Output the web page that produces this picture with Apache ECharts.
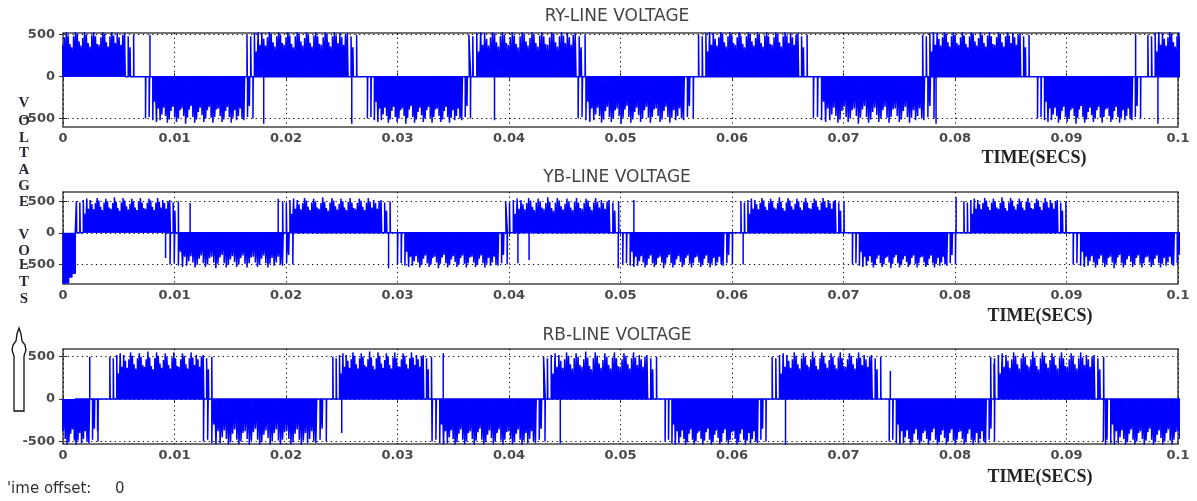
<!DOCTYPE html>
<html lang="en">
  <head>
    <meta charset="UTF-8" />
    <title>line voltages</title>
    <style>
      body, html {
        margin: 0;
        width: 100%;
        height: 100%;
        background: #fff;
      }
    </style>
  </head>
  <body>
    <div id="main" style="width:1197px;height:501px;"></div>

    <script src="https://cdn.jsdelivr.net/npm/echarts@6/dist/echarts.min.js"></script>
    <script>
      // tick values
      const voltTicks = [-500, 0, 500];

      // one half cycle of the PWM pattern: peak of each pulse and its duty
      const pulsePeak = [
        500, 0, 480, 0, 520, 300,
        540, 380, 520, 450,
        370, 470, 550, 510, 410,
        360, 480, 540, 500, 400,
        380, 470, 560, 490, 390,
        350, 480, 550, 510, 420,
        370, 460, 540, 500, 400,
        360, 490, 550, 480, 390,
        380, 470, 540, 510, 410,
        360, 480, 550, 490,
        400, 520, 470, 380, 500,
        520, 0, 480, 350, 0, 500,
      ];
      const pulseDuty = [
        0.2, 0, 0.25, 0, 0.3, 0.4,
        0.5, 0.55, 0.6, 0.65,
        0.7, 0.75, 0.8, 0.8, 0.85,
        0.85, 0.85, 0.85, 0.85, 0.85,
        0.85, 0.85, 0.85, 0.85, 0.85,
        0.85, 0.85, 0.85, 0.85, 0.85,
        0.85, 0.85, 0.85, 0.85, 0.85,
        0.85, 0.85, 0.85, 0.85, 0.85,
        0.85, 0.85, 0.85, 0.85, 0.8,
        0.8, 0.75, 0.75, 0.7,
        0.65, 0.6, 0.55, 0.5, 0.45,
        0.4, 0, 0.3, 0.25, 0, 0.15,
      ];

      // RY: half cycle windows (s) and polarity
      const ryStart = [-0.0033, 0.0074, 0.0165, 0.0273, 0.0364, 0.0462, 0.0570, 0.0673, 0.0771, 0.0874, 0.0973];
      const ryEnd = [0.0065, 0.0172, 0.0265, 0.0367, 0.0470, 0.0567, 0.0669, 0.0783, 0.0868, 0.0968, 0.1071];
      const rySign = [1, -1, 1, -1, 1, -1, 1, -1, 1, -1, 1];
      const rySpikes = [[0.0078, 500], [0.0180, -560], [0.0259, -560], [0.0387, -520], [0.0783, -560], [0.0962, 500], [0.0982, -560]];

      // YB
      const ybStart = [0.0012, 0.0096, 0.0197, 0.0300, 0.0397, 0.0502, 0.0608, 0.0708, 0.0808, 0.0906];
      const ybEnd = [0.0105, 0.0208, 0.0295, 0.0400, 0.0500, 0.0602, 0.0702, 0.0802, 0.0901, 0.1006];
      const ybSign = [1, -1, 1, -1, 1, -1, 1, -1, 1, -1];
      const ybSpikes = [[0.0092, -400], [0.0114, 470], [0.0193, 540], [0.0292, -560], [0.0408, -480], [0.0418, -430], [0.0498, -560], [0.0512, 520], [0.0610, -500], [0.0801, 560]];
      // start-up transient
      const ybStartup = [
        [0, 0], [0, -800], [0.0002, -800], [0.0002, -300], [0.0003, -300], [0.0003, -790],
        [0.0005, -790], [0.0005, -400], [0.0006, -400], [0.0006, -700], [0.0008, -700],
        [0.0008, -350], [0.0009, -350], [0.0009, -640], [0.0011, -640], [0.0011, 0],
      ];

      // RB
      const rbStart = [-0.0065, 0.0042, 0.0126, 0.0242, 0.0331, 0.0431, 0.0540, 0.0636, 0.0741, 0.0832, 0.0933];
      const rbEnd = [0.0033, 0.0135, 0.0238, 0.0332, 0.0434, 0.0534, 0.0632, 0.0735, 0.0837, 0.0935, 0.1033];
      const rbSign = [-1, 1, -1, 1, -1, 1, -1, 1, -1, 1, -1];
      const rbSpikes = [[0.0011, -500], [0.0024, 500], [0.0031, -380], [0.0250, -400], [0.0341, 540], [0.0446, -520], [0.0648, -560], [0.0742, 330], [0.0835, 420], [0.0935, -560]];

      const titles = ['RY-LINE VOLTAGE', 'YB-LINE VOLTAGE', 'RB-LINE VOLTAGE'];
      const yMin = [-600, -810, -530];
      const yMax = [520, 645, 590];

      function buildTrace(starts, ends, signs, spikes, head) {
        const pts = head ? head.slice() : [];
        for (let w = 0; w < starts.length; w++) {
          const slot = (ends[w] - starts[w]) / pulsePeak.length;
          for (let k = 0; k < pulsePeak.length; k++) {
            const v = signs[w] * pulsePeak[k];
            const d = pulseDuty[k];
            if (!v || !d) continue;
            const t0 = starts[w] + k * slot;
            const t1 = t0 + d * slot;
            pts.push([t0, 0], [t0, v], [t1, v], [t1, 0]);
          }
        }
        spikes.forEach(([t, v]) => {
          pts.push([t, 0], [t, v], [t, 0]);
        });
        return pts;
      }

      const traces = [
        buildTrace(ryStart, ryEnd, rySign, rySpikes),
        buildTrace(ybStart, ybEnd, ybSign, ybSpikes, ybStartup),
        buildTrace(rbStart, rbEnd, rbSign, rbSpikes),
      ];

      const gridTops = [33, 192, 349];
      const gridHeights = [94, 92, 95];
      const labelFont = {
        fontFamily: 'DejaVu Sans',
        fontWeight: 'bold',
        fontSize: 13,
        color: '#4a4a4a',
      };
      const dotted = { color: '#000', width: 1, type: [1.2, 3.5] };

      function draw() {
        const myChart = echarts.init(document.getElementById('main'));

        const grid = [];
        const xAxis = [];
        const yAxis = [];
        const series = [];

        for (let i = 0; i < 3; i++) {
          grid.push({
            left: 63,
            right: 19,
            top: gridTops[i],
            height: gridHeights[i],
            show: true,
            borderColor: '#444',
            borderWidth: 1.5,
          });
          xAxis.push({
            type: 'value',
            gridIndex: i,
            min: 0,
            max: 0.1,
            interval: 0.01,
            axisLine: { show: false },
            axisTick: { inside: true, length: 4, lineStyle: { color: '#333' } },
            axisLabel: Object.assign({ margin: 5, formatter: v => String(+v.toFixed(2)) }, labelFont),
            splitLine: { show: true, lineStyle: dotted },
          });
          xAxis.push({
            type: 'value',
            gridIndex: i,
            position: 'top',
            min: 0,
            max: 0.1,
            interval: 0.01,
            axisLine: { show: false },
            axisTick: { inside: true, length: 4, lineStyle: { color: '#333' } },
            axisLabel: { show: false },
            splitLine: { show: false },
          });
          yAxis.push({
            type: 'value',
            gridIndex: i,
            min: yMin[i],
            max: yMax[i],
            axisLine: { show: false },
            axisTick: { show: true, inside: true, length: 4, customValues: voltTicks, lineStyle: { color: '#333' } },
            axisLabel: Object.assign({ margin: 8, customValues: voltTicks }, labelFont),
            splitLine: { show: true, lineStyle: dotted },
          });
          yAxis.push({
            type: 'value',
            gridIndex: i,
            position: 'right',
            min: yMin[i],
            max: yMax[i],
            axisLine: { show: false },
            axisTick: { show: true, inside: true, length: 4, customValues: voltTicks, lineStyle: { color: '#333' } },
            axisLabel: { show: false },
            splitLine: { show: false },
          });
          series.push({
            type: 'line',
            xAxisIndex: 2 * i,
            yAxisIndex: 2 * i,
            data: traces[i],
            showSymbol: false,
            symbol: 'none',
            sampling: null,
            clip: true,
            lineStyle: { color: '#0000ff', width: 1.5 },
            areaStyle: { color: '#0000ff', opacity: 1, origin: 0 },
            z: 3,
          });
        }

        const serif = 'bold 18px "Liberation Serif"';
        const graphic = [];
        titles.forEach((t, i) => {
          graphic.push({
            type: 'text',
            style: { text: t, x: 617, y: [17, 178, 336][i], textAlign: 'center', textVerticalAlign: 'middle', font: '17px "DejaVu Sans"', fill: '#444' },
          });
          graphic.push({
            type: 'text',
            style: { text: 'TIME(SECS)', x: [1034, 1040, 1040][i], y: [158, 316, 477][i], textAlign: 'center', textVerticalAlign: 'middle', font: serif, fill: '#222' },
          });
        });

        const sideLetters = ['V', 'O', 'L', 'T', 'A', 'G', 'E', 'V', 'O', 'L', 'T', 'S'];
        const sideY = [103, 121, 138, 153, 170, 186, 202, 235, 251, 265, 282, 299];
        sideLetters.forEach((c, i) => {
          graphic.push({
            type: 'text',
            style: { text: c, x: 24, y: sideY[i], textAlign: 'center', textVerticalAlign: 'middle', font: 'bold 15px "Liberation Serif"', fill: '#2a2a38' },
          });
        });

        graphic.push({
          type: 'polygon',
          shape: {
            points: [[19, 328], [21, 334], [22, 341], [25, 345], [26, 350], [24, 356], [24, 411],
              [14, 411], [14, 356], [12, 350], [13, 345], [16, 341], [17, 334]],
          },
          style: { fill: '#fff', stroke: '#111', lineWidth: 1.3 },
        });
        graphic.push({
          type: 'text',
          style: { text: "'ime offset:", x: 7, y: 489, textVerticalAlign: 'middle', font: '15px "DejaVu Sans"', fill: '#333' },
        });
        graphic.push({
          type: 'text',
          style: { text: '0', x: 115, y: 489, textVerticalAlign: 'middle', font: '15px "DejaVu Sans"', fill: '#333' },
        });

        myChart.setOption({
          animation: false,
          backgroundColor: '#fff',
          grid,
          xAxis,
          yAxis,
          series,
          graphic,
        });
      }

      draw();
    </script>
  </body>
</html>
